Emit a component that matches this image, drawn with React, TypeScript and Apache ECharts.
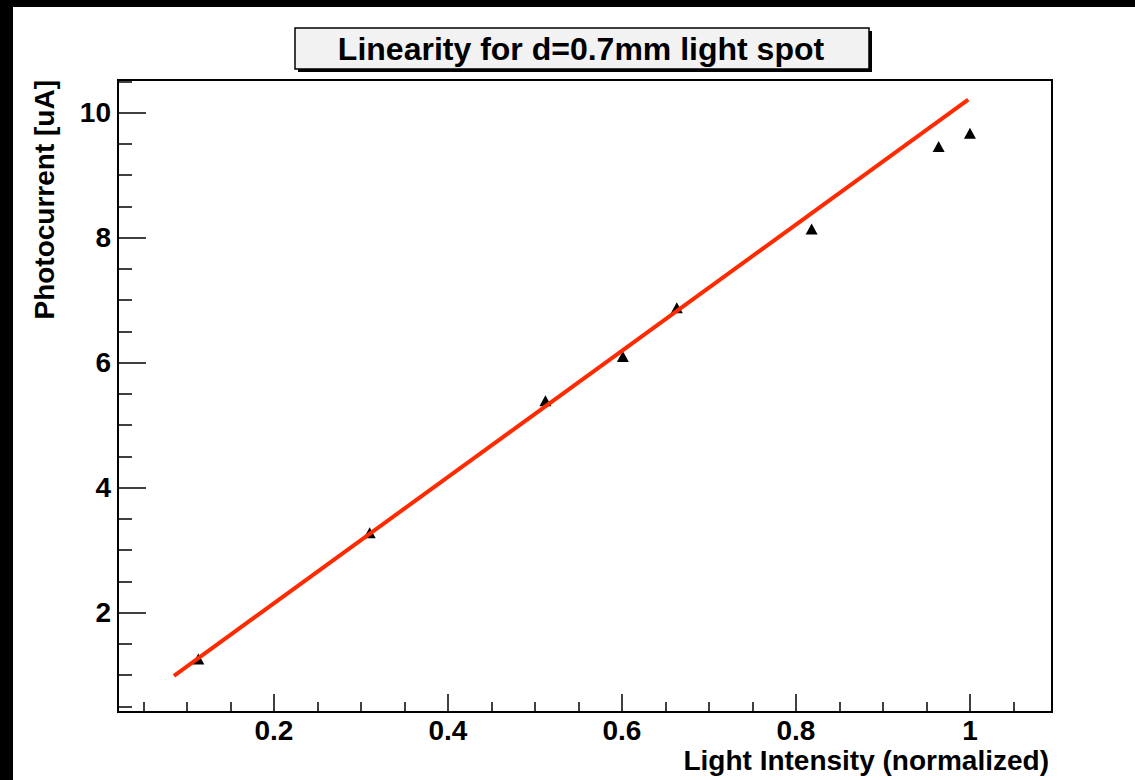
import React, { useEffect, useRef } from "react";
import * as echarts from "echarts";

// ---- data ----
const titleText = "Linearity for d=0.7mm light spot";
const xTitle = "Light Intensity (normalized)";
const yTitle = "Photocurrent [uA]";

const lightIntensity = [0.113, 0.31, 0.512, 0.601, 0.663, 0.818, 0.964, 1.0];
const photocurrent = [1.26, 3.28, 5.39, 6.1, 6.88, 8.14, 9.46, 9.67];

const fitX = [0.085, 0.998];
const fitY = [0.99, 10.21];

const xRange = [0.0207, 1.0943];
const yRange = [0.411, 10.523];

const FONT = "'Liberation Sans', Arial, Helvetica, sans-serif";

function isMultiple(v: number, step: number) {
  const r = v / step;
  return Math.abs(r - Math.round(r)) < 1e-6;
}

export default function App() {
  const ref = useRef<HTMLDivElement>(null);

  useEffect(() => {
    if (!ref.current) return;
    const chart = echarts.init(ref.current, null, { renderer: "svg" });

    const scatterData = lightIntensity.map((x, i) => [x, photocurrent[i]]);
    const fitData = fitX.map((x, i) => [x, fitY[i]]);

    chart.setOption({
      animation: false,
      backgroundColor: "#ffffff",
      grid: {
        left: 118,
        top: 80,
        width: 934,
        height: 632,
        show: true,
        borderColor: "#000",
        borderWidth: 2,
        backgroundColor: "transparent",
        containLabel: false,
      },
      xAxis: {
        type: "value",
        min: xRange[0],
        max: xRange[1],
        splitNumber: 5,
        axisLine: { show: true, onZero: false, lineStyle: { color: "#000", width: 2 } },
        axisTick: { show: true, inside: true, length: 18, lineStyle: { color: "#000", width: 1.5 } },
        minorTick: { show: true, splitNumber: 4, length: 10, lineStyle: { color: "#000", width: 1.5 } },
        splitLine: { show: false },
        axisLabel: {
          show: true,
          margin: 4,
          color: "#000",
          fontFamily: FONT,
          fontWeight: "bold",
          fontSize: 28,
          showMinLabel: false,
          showMaxLabel: false,
          formatter: (v: number) => (isMultiple(v, 0.2) ? String(+v.toFixed(1)) : ""),
        },
      },
      yAxis: {
        type: "value",
        min: yRange[0],
        max: yRange[1],
        splitNumber: 5,
        axisLine: { show: true, onZero: false, lineStyle: { color: "#000", width: 2 } },
        axisTick: { show: true, inside: true, length: 28, lineStyle: { color: "#000", width: 1.5 } },
        minorTick: { show: true, splitNumber: 4, length: 14, lineStyle: { color: "#000", width: 1.5 } },
        splitLine: { show: false },
        axisLabel: {
          show: true,
          margin: 7,
          color: "#000",
          fontFamily: FONT,
          fontWeight: "bold",
          fontSize: 28,
          showMinLabel: false,
          showMaxLabel: false,
          formatter: (v: number) => (isMultiple(v, 2) ? String(Math.round(v)) : ""),
        },
      },
      series: [
        {
          type: "scatter",
          data: scatterData,
          symbol: "triangle",
          symbolSize: [12, 11],
          itemStyle: { color: "#000", opacity: 1 },
          z: 2,
        },
        {
          type: "line",
          data: fitData,
          showSymbol: false,
          symbol: "none",
          lineStyle: { color: "#ff2a00", width: 4 },
          z: 3,
        },
      ],
      graphic: [
        { type: "rect", shape: { x: 0, y: 0, width: 1135, height: 7 }, style: { fill: "#000" }, z: 100 },
        { type: "rect", shape: { x: 0, y: 0, width: 13, height: 780 }, style: { fill: "#000" }, z: 100 },
        { type: "rect", shape: { x: 298, y: 31, width: 574, height: 41 }, style: { fill: "#000" }, z: 100 },
        {
          type: "rect",
          shape: { x: 295, y: 28, width: 574, height: 41 },
          style: { fill: "#f2f2f2", stroke: "#000", lineWidth: 1.5 },
          z: 101,
        },
        {
          type: "text",
          x: 581,
          y: 48.5,
          style: {
            text: titleText,
            fontFamily: FONT,
            fontWeight: "bold",
            fontSize: 32,
            fill: "#000",
            align: "center",
            verticalAlign: "middle",
          },
          z: 102,
        },
        {
          type: "text",
          x: 1049,
          y: 760,
          style: {
            text: xTitle,
            fontFamily: FONT,
            fontWeight: "bold",
            fontSize: 28,
            fill: "#000",
            align: "right",
            verticalAlign: "middle",
          },
          z: 102,
        },
        {
          type: "text",
          x: 44,
          y: 80,
          rotation: Math.PI / 2,
          style: {
            text: yTitle,
            fontFamily: FONT,
            fontWeight: "bold",
            fontSize: 28,
            fill: "#000",
            align: "right",
            verticalAlign: "middle",
          },
          z: 102,
        },
      ],
    });

    return () => chart.dispose();
  }, []);

  return (
    <div
      ref={ref}
      style={{ position: "absolute", left: 0, top: 0, width: 1135, height: 780, background: "#fff" }}
    />
  );
}
